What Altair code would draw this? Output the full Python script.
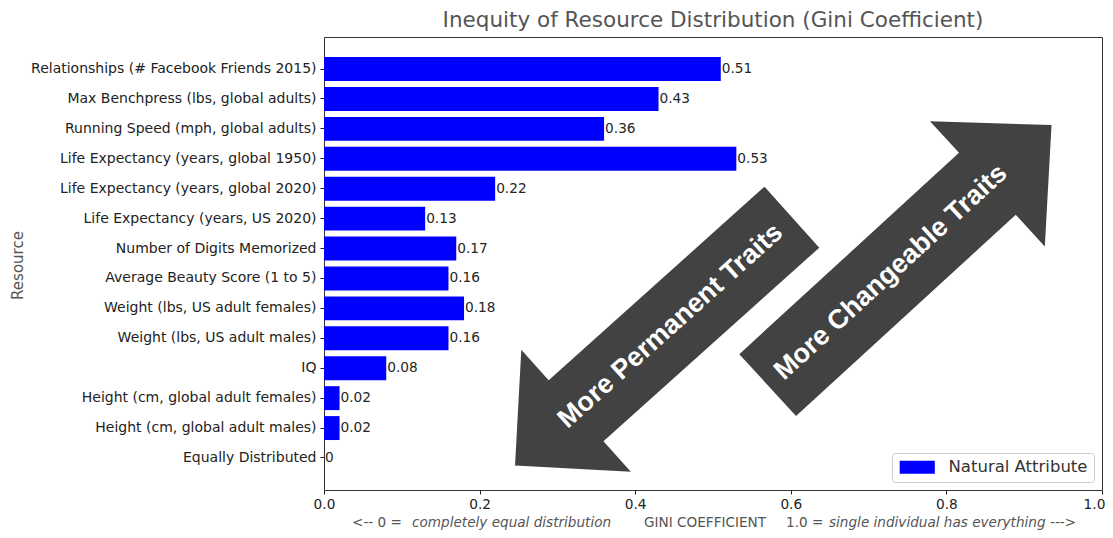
import altair as alt
import pandas as pd

# ---------------- data ----------------
resources = [
    "Relationships (# Facebook Friends 2015)",
    "Max Benchpress (lbs, global adults)",
    "Running Speed (mph, global adults)",
    "Life Expectancy (years, global 1950)",
    "Life Expectancy (years, global 2020)",
    "Life Expectancy (years, US 2020)",
    "Number of Digits Memorized",
    "Average Beauty Score (1 to 5)",
    "Weight (lbs, US adult females)",
    "Weight (lbs, US adult males)",
    "IQ",
    "Height (cm, global adult females)",
    "Height (cm, global adult males)",
    "Equally Distributed",
]
gini = [0.51, 0.43, 0.36, 0.53, 0.22, 0.13, 0.17, 0.16, 0.18, 0.16, 0.08, 0.02, 0.02, 0]
series_name = "Natural Attribute"
x_ticks = [0.0, 0.2, 0.4, 0.6, 0.8, 1.0]

title_text = "Inequity of Resource Distribution (Gini Coefficient)"
y_title = "Resource"
xlabel_parts = ["<--  0 =", "completely equal distribution", "GINI COEFFICIENT",
                "1.0 =", "single individual has everything", "--->"]
xlabel_italic = [False, True, False, False, True, False]
arrow_texts = ["More Permanent Traits", "More Changeable Traits"]

# ---------------- layout / style (not data) ----------------
W, H = 778, 453
xlabel_px = [28, 88, 320, 462, 505, 726]
FONT = "DejaVu Sans"

labels = [f"{v:g}" for v in gini]
df = pd.DataFrame({"resource": resources, "gini": gini, "label": labels,
                   "series": [series_name] * len(resources)})

x_enc = alt.X("gini:Q",
              scale=alt.Scale(domain=[0, 1], nice=False, zero=True),
              axis=alt.Axis(values=x_ticks, format=".1f", title=None, grid=False,
                            domain=False, labelFlush=False, tickSize=4,
                            tickColor="#222", labelPadding=3, labelFontSize=13.7,
                            labelColor="#222", labelFont=FONT,
                            labelOffset={"condition": {"test": "datum.value >= 1", "value": -8},
                                         "value": 0}))
y_enc = alt.Y("resource:N", sort=resources,
              scale=alt.Scale(paddingInner=0.2, paddingOuter=0.67),
              axis=alt.Axis(title=y_title, grid=False, domain=False, tickSize=4,
                            tickColor="#222", labelPadding=4, labelFontSize=14,
                            labelColor="#222", labelFont=FONT, labelLimit=400,
                            titleFont=FONT, titleFontSize=15, titleColor="#555",
                            titleFontWeight="normal", titleX=-307, titleY=228,
                            titleBaseline="middle", titleAngle=270))

legend = alt.Legend(title=None, orient="bottom-right", offset=8, padding=6,
                    strokeColor="#cccccc", fillColor="white", cornerRadius=3,
                    labelFontSize=16.5, labelColor="#333", labelFont=FONT,
                    symbolType="M-2.7,-1L2.7,-1L2.7,1L-2.7,1Z", symbolSize=169,
                    symbolStrokeWidth=0, symbolOpacity=1, symbolOffset=11,
                    labelOffset=23)

bars = alt.Chart(df).mark_bar().encode(
    x=x_enc, y=y_enc,
    color=alt.Color("series:N", scale=alt.Scale(domain=[series_name], range=["#0000ff"]),
                    legend=legend))

vals = alt.Chart(df).mark_text(align="left", baseline="middle", dx=1, fontSize=13.7,
                               color="#262626", font=FONT).encode(
    x="gini:Q", y=alt.Y("resource:N", sort=resources), text="label:N")

# arrows (annotation shapes in a local frame, rotated)
perm_path = "M163,-41L-127,-41L-127,-82L-209,0L-127,82L-127,41L163,41Z"
chg_path = "M-167,-42L131,-42L131,-85L218,0L131,85L131,42L-167,42Z"
arrow_specs = [
    (arrow_texts[0], perm_path, 346.6, 289.0, 318.1),
    (arrow_texts[1], chg_path, 566.8, 235.3, 317.5),
]
layers = [bars, vals]
for txt, path, cx, cy, ang in arrow_specs:
    d = pd.DataFrame({"t": [txt]})
    layers.append(alt.Chart(d).mark_point(shape=path, filled=True, size=4, angle=ang,
                                          color="#424242", opacity=1, strokeWidth=0).encode(
        x=alt.value(cx), y=alt.value(cy)))
    layers.append(alt.Chart(d).mark_text(angle=ang, font="Liberation Sans", fontWeight="bold",
                                         fontSize=27, color="white", align="center",
                                         baseline="middle").encode(
        x=alt.value(cx), y=alt.value(cy), text="t:N"))

for part, px, it in zip(xlabel_parts, xlabel_px, xlabel_italic):
    d = pd.DataFrame({"t": [part]})
    layers.append(alt.Chart(d).mark_text(align="left", baseline="middle", fontSize=13.6,
                                         color="#555", font=FONT,
                                         fontStyle="italic" if it else "normal").encode(
        x=alt.value(px), y=alt.value(486), text="t:N"))

chart = alt.layer(*layers).properties(
    width=W, height=H,
    title=alt.Title(title_text, fontSize=21.5, font=FONT, fontWeight="normal",
                    color="#555", anchor="middle", offset=6),
    padding={"left": 316, "top": 29, "right": 3, "bottom": 40},
    autosize=alt.AutoSizeParams(type="none"),
).configure_view(stroke="#333", strokeWidth=1)

chart.save("out.html", embed_options={"renderer": "svg", "actions": False})
